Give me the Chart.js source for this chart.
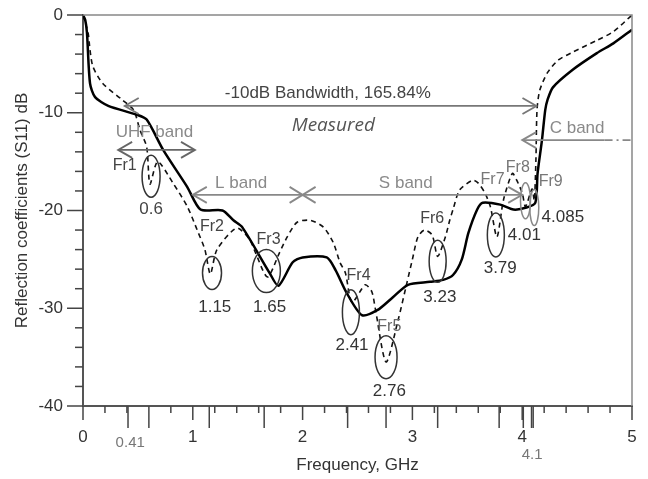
<!DOCTYPE html>
<html>
<head>
<meta charset="utf-8">
<script src="https://cdn.jsdelivr.net/npm/chart.js"></script>
<style>
  body { margin: 0; background: #fff; }
</style>
</head>
<body>
<canvas id="s11Chart" width="648" height="479"></canvas>
<script>
// measured S11 (solid)
const freqMeasured = [0, 0.02, 0.036, 0.064, 0.11, 0.23, 0.49, 0.58, 0.73, 0.95, 1.07, 1.27, 1.37, 1.45, 1.70, 1.78, 1.91, 2.0, 2.22, 2.30, 2.40, 2.54, 2.68, 2.82, 2.96, 3.16, 3.28, 3.37, 3.45, 3.51, 3.59, 3.64, 3.80, 3.92, 4.04, 4.12, 4.14, 4.18, 4.21, 4.23, 4.28, 4.46, 4.68, 4.83, 5.0];
const s11Measured = [0, -0.5, -1.8, -7.0, -8.4, -9.3, -10.2, -10.7, -13.8, -17.6, -19.9, -20.0, -21.0, -21.7, -26.4, -27.7, -25.3, -24.8, -24.8, -26.1, -28.4, -30.7, -30.2, -28.9, -27.6, -27.3, -27.1, -26.6, -25.0, -22.3, -19.9, -19.2, -19.4, -19.9, -19.7, -19.2, -16.2, -12.8, -9.7, -8.7, -7.4, -5.6, -3.9, -2.9, -1.5];

// simulated S11 (dashed)
const freqSimulated = [0, 0.046, 0.064, 0.091, 0.18, 0.36, 0.46, 0.52, 0.58, 0.61, 0.68, 0.82, 0.95, 1.04, 1.11, 1.16, 1.22, 1.40, 1.52, 1.57, 1.68, 1.79, 1.86, 1.95, 2.07, 2.19, 2.28, 2.34, 2.39, 2.45, 2.57, 2.63, 2.66, 2.76, 2.87, 2.95, 3.0, 3.05, 3.11, 3.18, 3.23, 3.30, 3.34, 3.37, 3.43, 3.55, 3.60, 3.66, 3.71, 3.77, 3.83, 3.91, 3.95, 4.0, 4.03, 4.09, 4.11, 4.125, 4.135, 4.16, 4.23, 4.33, 4.46, 4.68, 4.83, 5.0];
const s11Simulated = [0, -1.8, -3.6, -5.3, -7.0, -8.7, -9.7, -11.8, -13.5, -17.3, -15.0, -17.2, -19.6, -22.0, -24.0, -26.5, -24.0, -21.8, -23.0, -24.3, -26.8, -24.3, -22.7, -21.2, -21.0, -21.7, -23.3, -25.3, -26.4, -29.4, -27.6, -28.3, -29.9, -35.5, -31.2, -27.4, -25.0, -22.7, -22.0, -22.5, -24.7, -22.7, -21.0, -19.9, -17.9, -16.9, -17.2, -18.2, -19.6, -22.7, -18.9, -16.2, -16.9, -18.2, -19.6, -17.8, -19.0, -14.8, -9.7, -7.7, -5.9, -4.6, -3.8, -2.6, -1.7, 0];

// axis ticks
const yMajorTicks = [0, -10, -20, -30, -40];
const yMinorTicks = [-2, -4, -6, -8, -12, -14, -16, -18, -22, -24, -26, -28, -32, -34, -36, -38];
const xMajorTicks = [0, 1, 2, 3, 4, 5];
const xMinorTicks = [0.2, 0.4, 0.8, 1.2, 1.4, 1.6, 1.8, 2.2, 2.4, 2.6, 2.8, 3.2, 3.4, 3.6, 3.8, 4.2, 4.4, 4.6, 4.8];
const resonanceFreqs = [0.41, 0.6, 1.15, 1.65, 2.41, 2.76, 3.23, 3.79, 4.01, 4.085, 4.1];

// annotations (data units)
const noteTexts = [
  { t: '-10dB Bandwidth, 165.84%', x: 2.23, y: -8.0, c: '#444', size: 17 },
  { t: 'Measured', x: 2.28, y: -11.35, c: '#555', italic: true, size: 19 },
  { t: 'UHF band', x: 0.65, y: -11.96, c: '#8a8a8a', size: 17 },
  { t: 'L band', x: 1.44, y: -17.2, c: '#8a8a8a', size: 17 },
  { t: 'S band', x: 2.94, y: -17.2, c: '#8a8a8a', size: 17 },
  { t: 'C band', x: 4.50, y: -11.55, c: '#8a8a8a', size: 17 },
  { t: 'Fr1', x: 0.38, y: -15.4, c: '#444' },
  { t: 'Fr2', x: 1.175, y: -21.6, c: '#444' },
  { t: 'Fr3', x: 1.69, y: -23.0, c: '#444' },
  { t: 'Fr4', x: 2.51, y: -26.7, c: '#444' },
  { t: 'Fr5', x: 2.79, y: -31.9, c: '#666' },
  { t: 'Fr6', x: 3.18, y: -20.8, c: '#444' },
  { t: 'Fr7', x: 3.73, y: -16.8, c: '#777' },
  { t: 'Fr8', x: 3.96, y: -15.6, c: '#777' },
  { t: 'Fr9', x: 4.26, y: -17.0, c: '#777' },
  { t: '0.6', x: 0.62, y: -19.9, c: '#444', size: 17 },
  { t: '1.15', x: 1.20, y: -29.9, c: '#333', size: 17 },
  { t: '1.65', x: 1.70, y: -29.9, c: '#333', size: 17 },
  { t: '2.41', x: 2.45, y: -33.8, c: '#333', size: 17 },
  { t: '2.76', x: 2.79, y: -38.5, c: '#333', size: 17 },
  { t: '3.23', x: 3.25, y: -28.9, c: '#333', size: 17 },
  { t: '3.79', x: 3.80, y: -25.9, c: '#333', size: 17 },
  { t: '4.01', x: 4.02, y: -22.5, c: '#333', size: 17 },
  { t: '4.085', x: 4.37, y: -20.7, c: '#333', size: 17 },
  { t: '0.41', x: 0.43, y: -43.8, c: '#777', size: 15 },
  { t: '4.1', x: 4.09, y: -45.0, c: '#777', size: 15 }
];
const ellipses = [
  { x: 0.62, y: -16.5, rx: 9, ry: 21, c: '#333' },
  { x: 1.175, y: -26.4, rx: 9.5, ry: 16.5, c: '#333' },
  { x: 1.67, y: -26.2, rx: 14, ry: 21.5, c: '#333' },
  { x: 2.44, y: -30.4, rx: 8.5, ry: 22.5, c: '#333' },
  { x: 2.76, y: -35.0, rx: 11, ry: 21.5, c: '#333' },
  { x: 3.23, y: -25.2, rx: 8.5, ry: 21, c: '#333' },
  { x: 3.76, y: -22.5, rx: 8.5, ry: 22, c: '#333' },
  { x: 4.03, y: -19.0, rx: 5, ry: 18, c: '#888' },
  { x: 4.11, y: -19.7, rx: 4.5, ry: 18, c: '#888' }
];
const arrows = [
  { x1: 0.38, x2: 4.13, y: -9.3, left: true, right: true, c: '#777' },
  { x1: 0.32, x2: 1.02, y: -13.8, left: true, right: true, c: '#666' },
  { x1: 1.0, x2: 2.0, y: -18.4, left: true, right: false, c: '#888' },
  { x1: 2.0, x2: 4.0, y: -18.4, left: false, right: true, c: '#888' },
  { x1: 4.0, x2: 4.75, y: -12.8, left: true, right: false, c: '#888' }
];

const FONT = '"Liberation Sans", Arial';

const notesPlugin = {
  id: 'notes',
  afterDraw(chart) {
    const { ctx, chartArea: a, scales: { x, y } } = chart;
    ctx.save();

    // frame top / right
    ctx.strokeStyle = '#888';
    ctx.lineWidth = 1.5;
    ctx.beginPath();
    ctx.moveTo(a.left, a.top); ctx.lineTo(a.right, a.top); ctx.lineTo(a.right, a.bottom);
    ctx.stroke();

    // tick marks
    ctx.strokeStyle = '#444';
    ctx.lineWidth = 1.5;
    const xTick = (v, len) => { const px = x.getPixelForValue(v); ctx.beginPath(); ctx.moveTo(px, a.bottom); ctx.lineTo(px, a.bottom + len); ctx.stroke(); };
    const yTick = (v, len) => { const py = y.getPixelForValue(v); ctx.beginPath(); ctx.moveTo(a.left, py); ctx.lineTo(a.left - len, py); ctx.stroke(); };
    xMinorTicks.forEach(v => xTick(v, 7));
    xMajorTicks.forEach(v => xTick(v, 14));
    resonanceFreqs.forEach(v => xTick(v, 22));
    yMinorTicks.forEach(v => yTick(v, 8));
    yMajorTicks.forEach(v => yTick(v, 16));

    // arrows
    const head = (tx, ty, dir) => {
      ctx.beginPath();
      ctx.moveTo(tx + dir * 14, ty - 8); ctx.lineTo(tx, ty); ctx.lineTo(tx + dir * 14, ty + 8);
      ctx.stroke();
    };
    arrows.forEach(ar => {
      const x1 = x.getPixelForValue(ar.x1), x2 = x.getPixelForValue(ar.x2), py = y.getPixelForValue(ar.y);
      ctx.strokeStyle = ar.c;
      ctx.lineWidth = 1.8;
      ctx.beginPath(); ctx.moveTo(x1, py); ctx.lineTo(x2, py); ctx.stroke();
      if (ar.left) head(x1, py, 1);
      if (ar.right) head(x2, py, -1);
    });
    // C band dash-dot tail
    {
      const py = y.getPixelForValue(-12.8);
      ctx.strokeStyle = '#888';
      ctx.setLineDash([8, 4, 2, 4]);
      ctx.beginPath(); ctx.moveTo(x.getPixelForValue(4.75), py); ctx.lineTo(a.right, py); ctx.stroke();
      ctx.setLineDash([]);
    }
    // cross at 2 GHz between L and S bands
    {
      const cx = x.getPixelForValue(2.0), cy = y.getPixelForValue(-18.4);
      ctx.strokeStyle = '#888';
      ctx.beginPath();
      ctx.moveTo(cx - 13, cy - 8); ctx.lineTo(cx + 13, cy + 8);
      ctx.moveTo(cx - 13, cy + 8); ctx.lineTo(cx + 13, cy - 8);
      ctx.stroke();
    }

    // ellipses
    ctx.lineWidth = 1.5;
    ellipses.forEach(e => {
      ctx.strokeStyle = e.c;
      ctx.beginPath();
      ctx.ellipse(x.getPixelForValue(e.x), y.getPixelForValue(e.y), e.rx, e.ry, 0, 0, Math.PI * 2);
      ctx.stroke();
    });

    // texts
    ctx.textAlign = 'center';
    ctx.textBaseline = 'middle';
    noteTexts.forEach(n => {
      ctx.fillStyle = n.c;
      ctx.font = (n.italic ? 'italic ' : '') + (n.size || 16) + 'px ' + (n.italic ? '"Open Sans"' : FONT);
      ctx.fillText(n.t, x.getPixelForValue(n.x), y.getPixelForValue(n.y));
    });
    ctx.restore();
  }
};

const toPoints = (xs, ys) => xs.map((v, i) => ({ x: v, y: ys[i] }));

new Chart(document.getElementById('s11Chart'), {
  type: 'line',
  data: {
    datasets: [
      {
        label: 'Measured',
        data: toPoints(freqMeasured, s11Measured),
        borderColor: '#000', borderWidth: 2.5,
        pointRadius: 0, tension: 0.25, fill: false
      },
      {
        label: 'Simulated',
        data: toPoints(freqSimulated, s11Simulated),
        borderColor: '#111', borderWidth: 1.6, borderDash: [5, 4],
        pointRadius: 0, tension: 0.25, fill: false
      }
    ]
  },
  options: {
    responsive: false, animation: false,
    layout: { padding: { left: 0, right: 16, top: 15, bottom: 0 } },
    plugins: { legend: { display: false }, tooltip: { enabled: false } },
    scales: {
      x: {
        type: 'linear', min: 0, max: 5,
        ticks: { stepSize: 1, padding: 3, color: '#333', font: { family: FONT, size: 17 } },
        grid: { display: false, drawTicks: true, tickLength: 18 },
        border: { color: '#555', width: 2 },
        title: { display: true, text: 'Frequency, GHz', color: '#333', font: { family: FONT, size: 17 }, padding: { top: 0, bottom: 3 } },
        afterFit: s => { s.height = 73; }
      },
      y: {
        type: 'linear', min: -40, max: 0,
        ticks: { stepSize: 10, padding: 3, color: '#333', font: { family: FONT, size: 17 } },
        grid: { display: false, drawTicks: true, tickLength: 17 },
        border: { color: '#555', width: 2 },
        title: { display: true, text: 'Reflection coefficients (S11) dB', color: '#333', font: { family: FONT, size: 17 }, padding: { top: 12, bottom: 0 } },
        afterFit: s => { s.width = 83; }
      }
    }
  },
  plugins: [notesPlugin]
});
</script>
</body>
</html>
